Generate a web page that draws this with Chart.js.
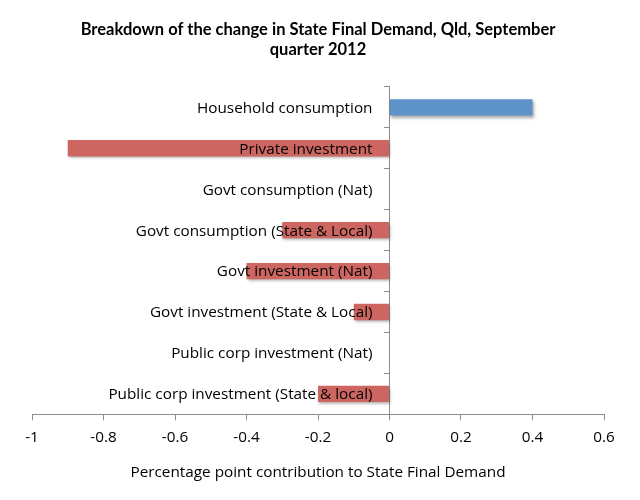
<!DOCTYPE html>
<html>
<head>
<meta charset="utf-8">
<script src="https://cdn.jsdelivr.net/npm/chart.js@4"></script>
<style>
  html, body { margin: 0; padding: 0; background: #fff; }
  #wrap { width: 640px; height: 500px; }
</style>
</head>
<body>
<div id="wrap"><canvas id="barChart"></canvas></div>
<script>
"use strict";

var categories = [
    'Household consumption',
    'Private investment',
    'Govt consumption (Nat)',
    'Govt consumption (State & Local)',
    'Govt investment (Nat)',
    'Govt investment (State & Local)',
    'Public corp investment (Nat)',
    'Public corp investment (State & local)'
];
var contributions = [0.4, -0.9, 0, -0.3, -0.4, -0.1, 0, -0.2];
var xTicks = [-1, -0.8, -0.6, -0.4, -0.2, 0, 0.2, 0.4, 0.6];

var barColors = contributions.map(function (v) {
    return v >= 0 ? 'rgb(94, 147, 201)' : 'rgb(205, 102, 97)';
});

var labelFont = { family: '"Open Sans", sans-serif', size: 15.3 };

// soft drop shadow under the bars, like the original
var shadowPlugin = {
    id: 'barShadow',
    beforeDatasetsDraw: function (chart) {
        var c = chart.ctx;
        c.save();
        c.shadowColor = 'rgba(0, 0, 0, 0.35)';
        c.shadowBlur = 3;
        c.shadowOffsetX = 1;
        c.shadowOffsetY = 2;
    },
    afterDatasetsDraw: function (chart) {
        chart.ctx.restore();
    }
};

// category names sit left of the zero line, on top of the bars
var zeroLabels = {
    id: 'zeroLabels',
    afterDatasetsDraw: function (chart) {
        var c = chart.ctx;
        var xs = chart.scales.x, ys = chart.scales.y;
        var x0 = xs.getPixelForValue(0) - 17;
        c.save();
        c.font = labelFont.size + 'px ' + labelFont.family;
        c.fillStyle = '#000';
        c.textAlign = 'right';
        c.textBaseline = 'middle';
        chart.data.labels.forEach(function (lab, i) {
            c.fillText(lab, x0, ys.getPixelForValue(i) + 1);
        });
        c.restore();
    }
};

var ctx = document.getElementById('barChart').getContext('2d');
var myChart = new Chart(ctx, {
    type: 'bar',
    data: {
        labels: categories,
        datasets: [{
            label: 'Contribution',
            data: contributions,
            backgroundColor: barColors,
            borderWidth: 0,
            barPercentage: 0.4,
            categoryPercentage: 1
        }]
    },
    plugins: [shadowPlugin, zeroLabels],
    options: {
        indexAxis: 'y',
        responsive: true,
        maintainAspectRatio: false,
        animation: false,
        layout: { padding: { left: 32, right: 36, top: 0, bottom: 18 } },
        plugins: {
            legend: { display: false },
            tooltip: { enabled: false },
            title: {
                display: true,
                text: ['Breakdown of the change in State Final Demand, Qld, September', 'quarter 2012'],
                color: '#000',
                font: { family: 'Lato, sans-serif', size: 16.5, weight: 'bold', lineHeight: 1.21 },
                padding: { top: 20, bottom: 27 }
            }
        },
        scales: {
            x: {
                min: -1,
                max: 0.6,
                afterBuildTicks: function (axis) {
                    axis.ticks = xTicks.map(function (v) { return { value: v }; });
                },
                ticks: {
                    color: '#000',
                    font: labelFont,
                    padding: 8,
                    maxRotation: 0,
                    callback: function (v) { return String(Math.round(v * 10) / 10); }
                },
                grid: { drawOnChartArea: false, drawTicks: true, tickLength: 6, color: '#8c8c8c' },
                border: { display: true, color: '#8c8c8c' },
                title: {
                    display: true,
                    text: 'Percentage point contribution to State Final Demand',
                    color: '#000',
                    font: labelFont,
                    padding: { top: 9, bottom: 0 }
                }
            },
            y: {
                position: { x: 0 },
                ticks: { display: false },
                grid: { drawOnChartArea: false, drawTicks: true, tickLength: 5, offset: true, color: '#8c8c8c' },
                border: { display: true, color: '#8c8c8c' }
            }
        }
    }
});
</script>
</body>
</html>
